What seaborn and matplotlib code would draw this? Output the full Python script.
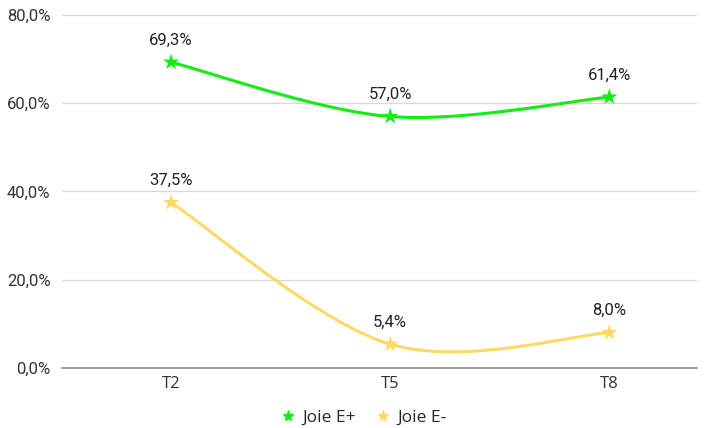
import numpy as np
import pandas as pd
import matplotlib
matplotlib.use("Agg")
import matplotlib.pyplot as plt
from matplotlib.lines import Line2D
import seaborn as sns

categories = ["T2", "T5", "T8"]
joie_pos = [69.3, 57.0, 61.4]
joie_neg = [37.5, 5.4, 8.0]
series_names = ["Joie E+", "Joie E-"]
colors = ["#14ec14", "#ffd966"]
y_ticks = [0, 20, 40, 60, 80]

sns.set_theme(style="white")
plt.rcParams["font.family"] = ["Roboto", "DejaVu Sans"]


def smooth(xs, ys, n=60):
    """Bezier smoothing through the points (Catmull-Rom style, tension 1/6)."""
    pts = np.column_stack([xs, ys]).astype(float)
    ext = np.vstack([pts[0], pts, pts[-1]])
    out = []
    t = np.linspace(0, 1, n)[:, None]
    for i in range(len(pts) - 1):
        p0, p1, p2, p3 = ext[i], ext[i + 1], ext[i + 2], ext[i + 3]
        c1 = p1 + (p2 - p0) / 6
        c2 = p2 - (p3 - p1) / 6
        seg = ((1 - t) ** 3) * p1 + 3 * ((1 - t) ** 2) * t * c1 + 3 * (1 - t) * t ** 2 * c2 + t ** 3 * p2
        out.append(seg if i == 0 else seg[1:])
    return np.vstack(out)


fig = plt.figure(figsize=(7.10, 4.28), dpi=100)
ax = fig.add_axes([61.5 / 710, 60 / 428, (697 - 61.5) / 710, 353 / 428])

x = np.arange(len(categories))
frames = []
for name, vals in zip(series_names, [joie_pos, joie_neg]):
    curve = smooth(x, vals)
    frames.append(pd.DataFrame({"x": curve[:, 0], "y": curve[:, 1], "serie": name}))
curves = pd.concat(frames, ignore_index=True)
sns.lineplot(data=curves, x="x", y="y", hue="serie", palette=colors, sort=False,
             estimator=None, linewidth=2.2, legend=False, ax=ax, zorder=3)

points = pd.DataFrame({
    "x": np.concatenate([x, x]),
    "y": joie_pos + joie_neg,
    "serie": [series_names[0]] * 3 + [series_names[1]] * 3,
})
sns.scatterplot(data=points, x="x", y="y", hue="serie", palette=colors, marker="*",
                s=150, linewidth=0, legend=False, ax=ax, zorder=4)

for vals in [joie_pos, joie_neg]:
    for xi, v in zip(x, vals):
        ax.annotate(f"{v:.1f}%".replace(".", ","), xy=(xi, v), xytext=(0, 16),
                    textcoords="offset points", ha="center", va="center",
                    fontsize=12, color="#222222",
                    arrowprops=dict(arrowstyle="-", color="#d4d4d4", lw=0.6,
                                    shrinkA=6, shrinkB=5))

ax.set_xlim(-0.5, 2.4)
ax.set_ylim(0, 80)
ax.set_yticks(y_ticks)
ax.set_yticklabels([f"{v:.1f}%".replace(".", ",") for v in y_ticks], fontsize=12, color="#333333")
ax.set_xticks(x)
ax.set_xticklabels(categories, fontsize=12, color="#333333", family=["Open Sans", "DejaVu Sans"])
ax.set_xlabel("")
ax.set_ylabel("")
ax.grid(axis="y", color="#d9d9d9", linewidth=1)
ax.tick_params(axis="y", length=0, pad=8)
ax.tick_params(axis="x", length=0, pad=6)
for side in ["top", "right", "left"]:
    ax.spines[side].set_visible(False)
ax.spines["bottom"].set_color("#8c8c8c")
ax.spines["bottom"].set_linewidth(1.2)
ax.spines["bottom"].set_zorder(2)

handles = [Line2D([], [], marker="*", linestyle="none", color=c, markersize=8) for c in colors]
fig.legend(handles, series_names, loc="center", bbox_to_anchor=(363 / 710, 1 - 418 / 428),
           ncol=2, frameon=False, handlelength=1.0, handletextpad=0.3, columnspacing=1.1,
           prop={"family": ["Open Sans", "DejaVu Sans"], "size": 12.5})

fig.savefig("out.png", dpi=100)
